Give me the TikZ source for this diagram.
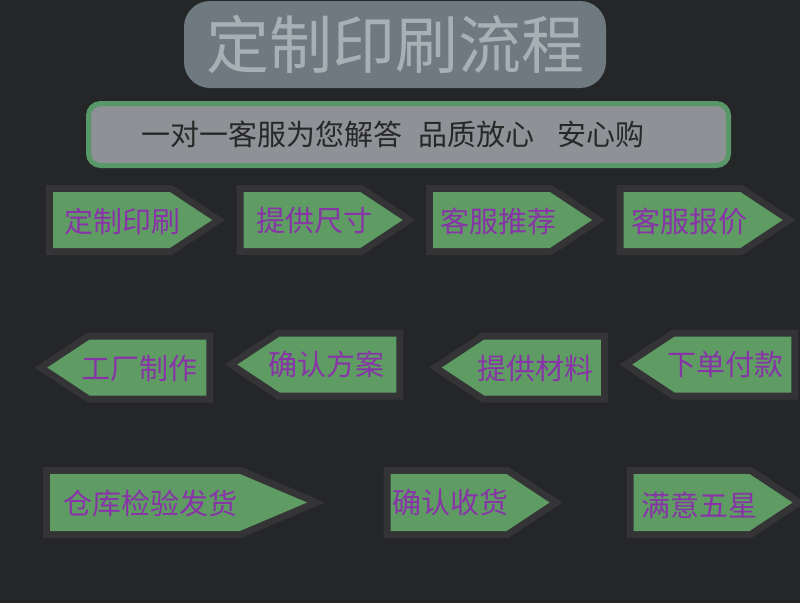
\documentclass[tikz,border=0pt]{standalone}
\usepackage{fontspec}
\newfontfamily\cjk{Noto Sans CJK SC}
\usepackage{xcolor}
\definecolor{bgdark}{RGB}{37,38,40}
\definecolor{edgegray}{RGB}{52,52,55}
\definecolor{leafgreen}{RGB}{94,156,99}
\definecolor{inkpurple}{RGB}{136,52,168}
\definecolor{titlefill}{RGB}{110,122,128}
\definecolor{titleink}{RGB}{168,176,182}
\definecolor{slogfill}{RGB}{142,145,150}
\definecolor{slogedge}{RGB}{88,152,104}
\definecolor{slogink}{RGB}{40,40,40}
\usetikzlibrary{shapes.symbols, positioning}

\tikzset{
  flowsig/.style={shape=signal, signal from=nowhere, signal pointer angle=67,
    minimum width=159pt, minimum height=56pt, inner sep=0pt, outer sep=0pt,
    fill=leafgreen, preaction={draw=edgegray, line width=14pt, line join=miter}},
  toright/.style={flowsig, signal to=east},
  toleft/.style={flowsig, signal to=west},
  flowtext/.style={inner sep=0pt, text=inkpurple, font=\cjk\fontsize{29pt}{32pt}\selectfont}
}

\begin{document}
\begin{tikzpicture}[x=1pt, y=-1pt]
  % canvas
  \fill[bgdark] (0,0) rectangle (800,603);
  \useasboundingbox (0,0) rectangle (800,603);

  % title and slogan
  \node[fill=titlefill, rounded corners=26pt, minimum width=422pt, minimum height=87pt,
    inner sep=0pt, text=titleink, font=\cjk\fontsize{63pt}{66pt}\selectfont]
    (title) at (395,44.5) {定制印刷流程};
  \node[fill=slogfill, draw=slogedge, line width=5pt, rounded corners=12pt,
    minimum width=640pt, minimum height=62pt, inner sep=0pt] (slogan) at (408.5,134.5) {};
  \node[inner sep=0pt, text=slogink, font=\cjk\fontsize{29pt}{32pt}\selectfont]
    (slogantxt) at ([xshift=-15.5pt]slogan.center)
    {一对一客服为您解答\hspace{17pt}品质放心\hspace{23pt}安心购};

  % row 1 (centres are the body centres, pointer excluded)
  \node[toright] (s1) at (111.5,220) {};
  \node[toright] (s2) at (302,220) {};
  \node[toright] (s3) at (491.5,220) {};
  \node[toright] (s4) at (682,220) {};
  \node[flowtext, anchor=west] (t1) at ([xshift=11.5pt,yshift=-1pt]s1.west) {定制印刷};
  \node[flowtext, anchor=west] (t2) at ([xshift=12.5pt,yshift=-1pt]s2.west) {提供尺寸};
  \node[flowtext, anchor=west] (t3) at ([xshift=7.5pt,yshift=-1pt]s3.west) {客服推荐};
  \node[flowtext, anchor=west] (t4) at ([xshift=7.5pt,yshift=-1pt]s4.west) {客服报价};

  % row 2
  \node[toleft] (s5) at (148,367.5) {};
  \node[toleft] (s6) at (338,364.5) {};
  \node[toleft] (s7) at (542.5,367.5) {};
  \node[toleft] (s8) at (733,364.5) {};
  \node[flowtext, anchor=east] (t5) at ([xshift=-8.5pt,yshift=-1pt]s5.east) {工厂制作};
  \node[flowtext, anchor=east] (t6) at ([xshift=-11.5pt]s6.east) {确认方案};
  \node[flowtext, anchor=east] (t7) at ([xshift=-7.5pt,yshift=-1pt]s7.east) {提供材料};
  \node[flowtext, anchor=east] (t8) at ([xshift=-7.5pt]s8.east) {下单付款};

  % row 3
  \node[toright, minimum width=257pt, minimum height=57pt, signal pointer angle=46] (s9) at (145,502.5) {};
  \node[toright, minimum height=57pt] (s10) at (448.5,502.5) {};
  \node[toright, minimum height=57pt] (s11) at (691.5,502.5) {};
  \node[flowtext, anchor=west] (t9) at ([xshift=13.5pt,yshift=-1pt]s9.west) {仓库检验发货};
  \node[flowtext, anchor=west] (t10) at ([xshift=1.5pt]s10.west) {确认收货};
  \node[flowtext, anchor=west] (t11) at ([xshift=7.5pt,yshift=-2.5pt]s11.west) {满意五星};
\end{tikzpicture}
\end{document}
